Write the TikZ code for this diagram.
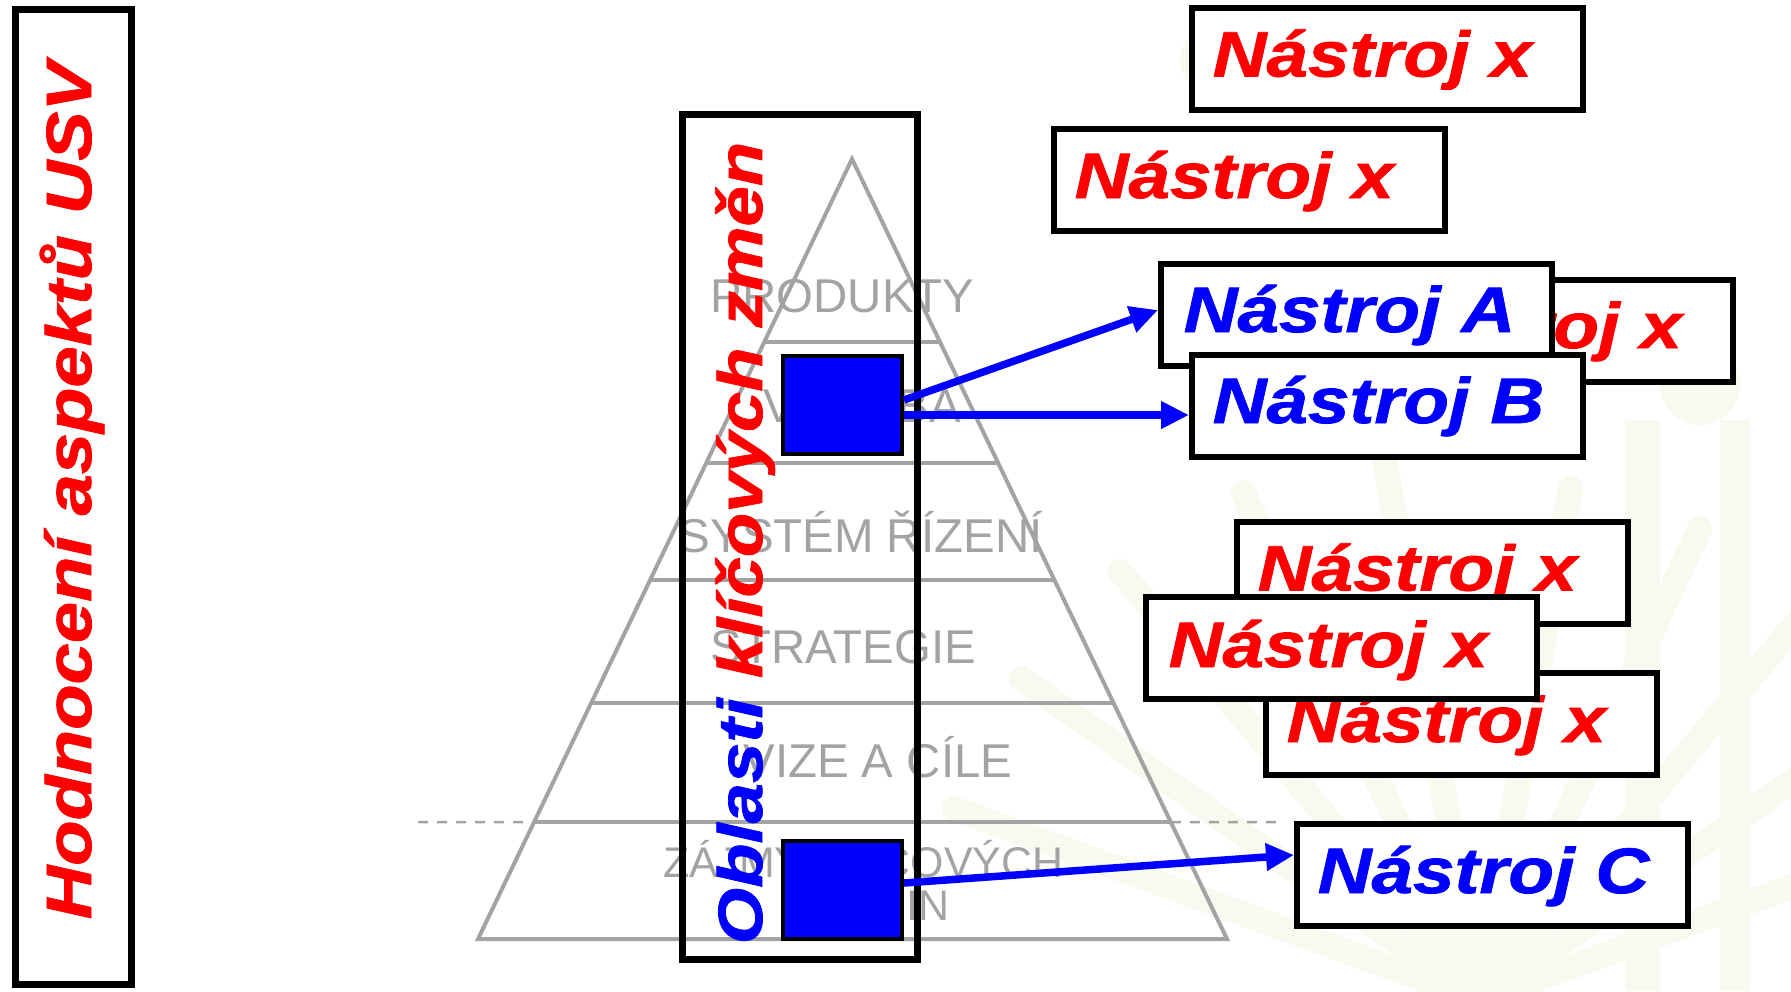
\documentclass[tikz,border=0pt]{standalone}
\usepackage{fontspec}
\setmainfont{Liberation Sans}
\newfontfamily\wfont[FakeStretch=1.16,FakeBold=1.2]{Liberation Sans}
\usetikzlibrary{arrows.meta,calc}
\definecolor{pyr}{gray}{0.64}
\definecolor{leaf}{RGB}{247,250,238}
\definecolor{myblue}{RGB}{0,0,255}
\definecolor{myred}{RGB}{255,0,0}
\begin{document}
\begin{tikzpicture}[x=0.1mm,y=-0.1mm,
  box/.style={draw=black,line width=0.6mm,fill=white,minimum width=39.1mm,minimum height=10.2mm,inner sep=0pt},
  frame/.style={draw=black,line width=0.7mm,inner sep=0pt},
  ntxt/.style={font={\wfont\fontsize{18.3pt}{20pt}\selectfont\bfseries\itshape},inner sep=0pt,anchor=base west},
  ttxt/.style={font={\wfont\fontsize{18.2pt}{20pt}\selectfont\bfseries\itshape},inner sep=0pt,anchor=base west,rotate=90},
  pyrline/.style={draw=pyr,line width=0.4mm},
  pyrdash/.style={draw=pyr,line width=0.25mm,dash pattern=on 1mm off 0.9mm},
  plab/.style={font={\fontsize{13.5pt}{15pt}\selectfont},text=pyr,inner sep=0pt},
  plabs/.style={font={\fontsize{12.2pt}{14pt}\selectfont},text=pyr,inner sep=0pt},
  sq/.style={draw=black,line width=0.4mm,fill=myblue,minimum width=11.9mm,minimum height=9.8mm,inner sep=0pt},
  arr/.style={draw=myblue,line width=0.75mm,-{Triangle[length=2.8mm,width=2.6mm]}},
  leafl/.style={draw=leaf,line width=2.5mm,line cap=round}
]
\useasboundingbox (0,0) rectangle (1791,991);
% faint palm watermark
\foreach \ang in {100,115,130,145,160} {\draw[leafl] (1480,1000) -- ++(\ang:-520);}
\foreach \ang in {20,35,50,65,80} {\draw[leafl] (1480,1000) -- ++(\ang:-560);}
\fill[leaf] (1700,385) circle (40);
\fill[leaf] (1215,60) circle (35);
\fill[leaf] (1625,420) rectangle (1660,991);
\fill[leaf] (1720,420) rectangle (1750,991);
% pyramid
\coordinate (apex) at (852,159);
\coordinate (bl) at (478,939);
\coordinate (br) at (1227,939);
\draw[pyrline] (bl) -- (apex) -- (br) -- cycle;
\foreach \t in {0.2346,0.3897,0.5397,0.6974,0.85} {
  \draw[pyrline] ($(apex)!\t!(bl)$) -- ($(apex)!\t!(br)$);
}
\coordinate (dl) at (418,822);
\coordinate (dr) at (1280,822);
\draw[pyrdash] (dl) -- ($(apex)!0.85!(bl)$);
\draw[pyrdash] ($(apex)!0.85!(br)$) -- (dr);
\node[plab,anchor=base west] (p1) at (710,312) {PRODUKTY};
\node[plab,anchor=base] (p2) at (862,422) {VÝROBA};
\node[plab,anchor=base west] (p3) at (678,552) {SYSTÉM ŘÍZENÍ};
\node[plab,anchor=base west] (p4) at (710,663) {STRATEGIE};
\node[plab,anchor=base east] (p5) at (1013,777) {VIZE A CÍLE};
\node[plabs,anchor=base east] (p6) at (1064,877) {ZÁJMY KLÍČOVÝCH};
\node[plabs,anchor=base east] (p7) at (950,920) {SKUPIN};
% left title
\node[frame,minimum width=11.6mm,minimum height=97.5mm] (lbox) at (73,497) {};
\node[ttxt] (ltitle) at (91,920) {\textcolor{myred}{Hodnocení aspektů USV}};
% middle frame
\node[frame,minimum width=23.5mm,minimum height=84.5mm] (mbox) at (800,537) {};
\node[ttxt,font={\wfont\fontsize{17.8pt}{20pt}\selectfont\bfseries\itshape}] (mtitle) at (762,945) {\textcolor{myblue}{Oblasti} \textcolor{myred}{klíčových změn}};
% blue squares
\node[sq] (sq1) at (842.5,405) {};
\node[sq] (sq2) at (842.5,889.5) {};
% tool boxes
\node[box] (T1) at (1387.5,58.5) {};
\node[ntxt,text=myred] (T1t) at ([xshift=2.3mm,yshift=-7.2mm]T1.north west) {Nástroj x};
\node[box] (T2) at (1249.5,180) {};
\node[ntxt,text=myred] (T2t) at ([xshift=2.3mm,yshift=-7.2mm]T2.north west) {Nástroj x};
\node[box] (T3) at (1537.5,331) {};
\node[ntxt,text=myred] (T3t) at ([xshift=2.3mm,yshift=-7.1mm]T3.north west) {Nástroj x};
\node[box] (A) at (1356.5,315) {};
\node[ntxt,text=myblue] (At) at ([xshift=2.5mm,yshift=-7.1mm]A.north west) {Nástroj A};
\node[box] (B) at (1387.5,406) {};
\node[ntxt,text=myblue] (Bt) at ([xshift=2.3mm,yshift=-7.1mm]B.north west) {Nástroj B};
\node[box] (R1) at (1432.5,572.5) {};
\node[ntxt,text=myred] (R1t) at ([xshift=2.3mm,yshift=-7.2mm]R1.north west) {Nástroj x};
\node[box] (R3) at (1461.5,724) {};
\node[ntxt,text=myred] (R3t) at ([xshift=2.3mm,yshift=-7.2mm]R3.north west) {Nástroj x};
\node[box] (R2) at (1341.5,648) {};
\node[ntxt,text=myred] (R2t) at ([xshift=2.5mm,yshift=-7.3mm]R2.north west) {Nástroj x};
\node[box] (C) at (1492.5,875) {};
\node[ntxt,text=myblue] (Ct) at ([xshift=2.3mm,yshift=-7.2mm]C.north west) {Nástroj C};
% arrows
\draw[arr] ([yshift=0.5mm]sq1.east) -- ([yshift=0.5mm]A.west);
\draw[arr] ([yshift=-1mm]sq1.east) -- ([yshift=-0.9mm]B.west);
\draw[arr] ([yshift=0.65mm]sq2.east) -- ([yshift=2mm]C.west);
\end{tikzpicture}
\end{document}
